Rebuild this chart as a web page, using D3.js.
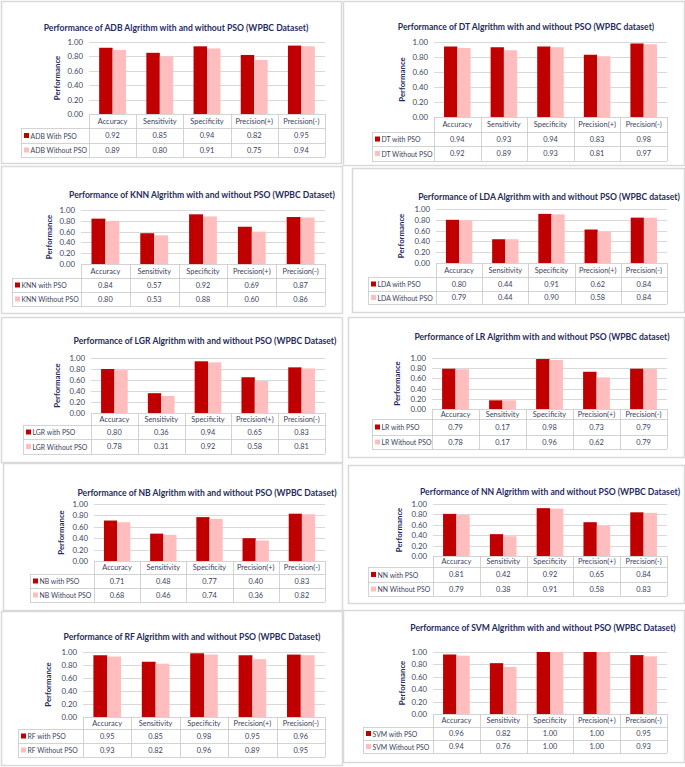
<!DOCTYPE html>
<html><head><meta charset="utf-8">
<script src="https://cdn.jsdelivr.net/npm/d3@7"></script>
<style>
html,body{margin:0;padding:0;background:#fff;}
svg{display:block;font-family:Lato,"Open Sans",sans-serif;}
</style></head>
<body><svg id="c" width="685" height="767"></svg>
<script>
// ---------- DATA ----------
const categories = ["Accuracy","Sensitivity","Specificity","Precision(+)","Precision(-)"];
const yTicks = [0, 0.2, 0.4, 0.6, 0.8, 1.0];
const algorithms = ["ADB","DT","KNN","LDA","LGR","LR","NB","NN","RF","SVM"];
const titles = [
  "Performance of ADB Algrithm with and without PSO (WPBC Dataset)",
  "Performance of DT Algrithm with and without PSO (WPBC dataset)",
  "Performance of KNN Algrithm with and without PSO (WPBC Dataset)",
  "Performance of LDA Algrithm with and without PSO (WPBC dataset)",
  "Performance of LGR Algrithm with and without PSO (WPBC Dataset)",
  "Performance of LR Algrithm with and without PSO (WPBC dataset)",
  "Performance of NB Algrithm with and without PSO (WPBC Dataset)",
  "Performance of NN Algrithm with and without PSO (WPBC Dataset)",
  "Performance of RF Algrithm with and without PSO (WPBC Dataset)",
  "Performance of SVM Algrithm with and without PSO (WPBC Dataset)"
];
const withLabels = ["ADB With PSO","DT with PSO","KNN with PSO","LDA with PSO","LGR with PSO","LR with PSO","NB with PSO","NN with PSO","RF with PSO","SVM with PSO"];
const withoutLabels = ["ADB Without PSO","DT Without PSO","KNN Without PSO","LDA Without PSO","LGR Without PSO","LR Without PSO","NB Without PSO","NN Without PSO","RF Without PSO","SVM Without PSO"];
const withPSO = [
  [0.92,0.85,0.94,0.82,0.95],
  [0.94,0.93,0.94,0.83,0.98],
  [0.84,0.57,0.92,0.69,0.87],
  [0.80,0.44,0.91,0.62,0.84],
  [0.80,0.36,0.94,0.65,0.83],
  [0.79,0.17,0.98,0.73,0.79],
  [0.71,0.48,0.77,0.40,0.83],
  [0.81,0.42,0.92,0.65,0.84],
  [0.95,0.85,0.98,0.95,0.96],
  [0.96,0.82,1.00,1.00,0.95]
];
const withoutPSO = [
  [0.89,0.80,0.91,0.75,0.94],
  [0.92,0.89,0.93,0.81,0.97],
  [0.80,0.53,0.88,0.60,0.86],
  [0.79,0.44,0.90,0.58,0.84],
  [0.78,0.31,0.92,0.58,0.81],
  [0.78,0.17,0.96,0.62,0.79],
  [0.68,0.46,0.74,0.36,0.82],
  [0.79,0.38,0.91,0.58,0.83],
  [0.93,0.82,0.96,0.89,0.95],
  [0.94,0.76,1.00,1.00,0.93]
];

// ---------- LAYOUT (positions only) ----------
const layout = [
  {pL:89, pR:325, yT:42,  yB:114, rows:[128,143,157], legL:21,  tY:28,  tX:176, yl:57,  box:[1,1,341,163]},
  {pL:434,pR:667, yT:42,  yB:117, rows:[132,146,161], legL:372, tY:27,  tX:526, yl:402, box:[343,1,684,165]},
  {pL:81, pR:325, yT:210, yB:264, rows:[278,292,306], legL:12,  tY:195, tX:202, yl:49,  box:[1,166,342,313]},
  {pL:436,pR:667, yT:209, yB:263, rows:[277,291,304], legL:368, tY:197, tX:549, yl:401, box:[352,168,684,312]},
  {pL:91, pR:325, yT:358, yB:413, rows:[425,439,454], legL:23,  tY:341, tX:205, yl:57,  box:[1,317,342,462]},
  {pL:432,pR:667, yT:358, yB:409, rows:[419,435,449], legL:372, tY:337, tX:542, yl:397, box:[348,317,684,457]},
  {pL:94, pR:325, yT:504, yB:561, rows:[574,588,602], legL:30,  tY:493, tX:207, yl:61,  box:[3,463,342,610]},
  {pL:433,pR:667, yT:504, yB:556, rows:[567,582,596], legL:368, tY:492, tX:550, yl:399, box:[348,465,684,603]},
  {pL:83, pR:325, yT:652, yB:717, rows:[729,743,757], legL:18,  tY:637, tX:192, yl:48,  box:[1,611,342,765]},
  {pL:433,pR:667, yT:652, yB:714, rows:[727,740,753], legL:363, tY:628, tX:543, yl:402, box:[343,610,684,762]}
];
const C_WITH = "#C00000", C_WITHOUT = "#FFBDBD";
const C_TITLE = "#1F2B5E", C_TEXT = "#3B3F5C", C_GRID = "#D9D9D9", C_TABLE = "#C8C8C8", C_BOX = "#D9D9D9";

const svg = d3.select("#c");
svg.append("rect").attr("width",685).attr("height",767).attr("fill","#fff");

algorithms.forEach((alg, i) => {
  const L = layout[i];
  const g = svg.append("g");
  g.append("rect").attr("x",L.box[0]+0.5).attr("y",L.box[1]+0.5)
    .attr("width",L.box[2]-L.box[0]).attr("height",L.box[3]-L.box[1])
    .attr("fill","none").attr("stroke",C_BOX).attr("stroke-width",1.5);

  const x = d3.scaleBand().domain(categories).range([L.pL, L.pR]).paddingInner(0.43).paddingOuter(0.215);
  const xs = d3.scaleBand().domain(["with","without"]).range([0, x.bandwidth()]);
  const y = d3.scaleLinear().domain([0,1]).range([L.yB, L.yT]);
  const colW = (L.pR - L.pL) / categories.length;

  g.append("g").selectAll("line").data(yTicks.slice(1)).join("line")
    .attr("x1",L.pL).attr("x2",L.pR).attr("y1",d=>Math.round(y(d))+0.5).attr("y2",d=>Math.round(y(d))+0.5)
    .attr("stroke",C_GRID).attr("stroke-width",1);

  const ax = d3.axisLeft(y).tickValues(yTicks).tickFormat(d3.format(".2f")).tickSize(0).tickPadding(6);
  const axg = g.append("g").attr("transform",`translate(${L.pL},0)`).call(ax);
  axg.select(".domain").remove();
  axg.selectAll("text").attr("font-size",7.8).attr("fill",C_TEXT).attr("font-family","Lato,sans-serif");

  const series = [
    {key:"with", vals:withPSO[i], color:C_WITH},
    {key:"without", vals:withoutPSO[i], color:C_WITHOUT}
  ];
  series.forEach(s => {
    g.append("g").selectAll("rect").data(categories).join("rect")
      .attr("x",c=>x(c)+xs(s.key)).attr("width",xs.bandwidth())
      .attr("y",(c,k)=>y(s.vals[k])).attr("height",(c,k)=>y(0)-y(s.vals[k]))
      .attr("fill",s.color);
  });

  g.append("text").attr("x",L.tX).attr("y",L.tY).attr("text-anchor","middle").attr("dominant-baseline","central")
    .attr("font-size",8.6).attr("font-weight","bold").attr("fill",C_TITLE).text(titles[i]);

  g.append("text").attr("transform",`translate(${L.yl},${(L.yT+L.yB)/2}) rotate(-90)`)
    .attr("text-anchor","middle").attr("dominant-baseline","central")
    .attr("font-size",7.8).attr("font-weight","bold").attr("fill",C_TITLE).text("Performance");

  const t = g.append("g").attr("stroke",C_TABLE).attr("stroke-width",0.8).attr("fill","none");
  const [r1, r2, r3] = L.rows;
  t.append("line").attr("x1",L.pL).attr("x2",L.pR).attr("y1",L.yB+0.5).attr("y2",L.yB+0.5);
  [r1,r2,r3].forEach(r=>t.append("line").attr("x1",L.legL).attr("x2",L.pR).attr("y1",r+0.5).attr("y2",r+0.5));
  t.append("line").attr("x1",L.legL+0.5).attr("x2",L.legL+0.5).attr("y1",r1).attr("y2",r3);
  d3.range(categories.length+1).forEach(k=>{
    const xx = Math.round(L.pL + k*colW)+0.5;
    t.append("line").attr("x1",xx).attr("x2",xx).attr("y1",L.yB).attr("y2",r3);
  });

  g.append("g").selectAll("text").data(categories).join("text")
    .attr("x",c=>x(c)+x.bandwidth()/2).attr("y",(L.yB+r1)/2).attr("dominant-baseline","central")
    .attr("text-anchor","middle").attr("font-size",7.4).attr("fill",C_TEXT).text(c=>c);

  const rowsDef = [
    {label:withLabels[i], vals:withPSO[i], color:C_WITH, top:r1, bot:r2},
    {label:withoutLabels[i], vals:withoutPSO[i], color:C_WITHOUT, top:r2, bot:r3}
  ];
  rowsDef.forEach(r=>{
    const cy = (r.top + r.bot)/2;
    g.append("rect").attr("x",L.legL+3).attr("y",cy-2.5).attr("width",5).attr("height",5).attr("fill",r.color);
    g.append("text").attr("x",L.legL+9.5).attr("y",cy).attr("dominant-baseline","central")
      .attr("font-size",6.9).attr("fill",C_TEXT).text(r.label);
    g.append("g").selectAll("text").data(categories).join("text")
      .attr("x",c=>x(c)+x.bandwidth()/2).attr("y",cy).attr("dominant-baseline","central")
      .attr("text-anchor","middle").attr("font-size",7.4).attr("fill",C_TEXT)
      .text((c,k)=>d3.format(".2f")(r.vals[k]));
  });
});
</script></body></html>
